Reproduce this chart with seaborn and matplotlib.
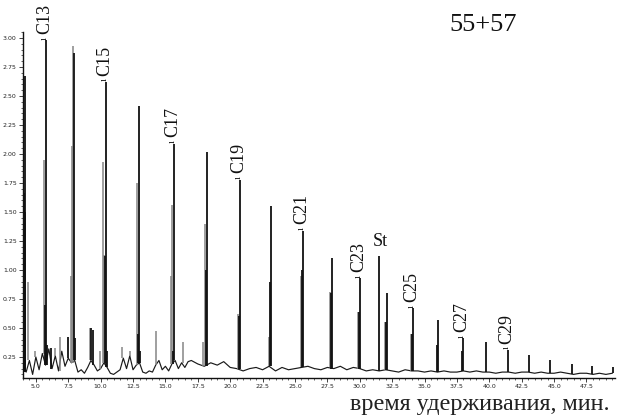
import numpy as np
import pandas as pd
import matplotlib
matplotlib.use("Agg")
import matplotlib.pyplot as plt
import seaborn as sns
from matplotlib.ticker import MultipleLocator, FormatStrFormatter

# ---------------- data ----------------
base_t_left = np.arange(4.0, 17.0, 0.25)
base_v_left = [0.20, 0.12, 0.22, 0.10, 0.25, 0.14, 0.28, 0.18,
               0.32, 0.15, 0.26, 0.13, 0.30, 0.17, 0.24, 0.20,
               0.22, 0.12, 0.14, 0.11, 0.16, 0.22, 0.18, 0.13,
               0.15, 0.20, 0.16, 0.11, 0.10, 0.12, 0.14, 0.24,
               0.15, 0.26, 0.14, 0.18, 0.20, 0.12, 0.11, 0.13,
               0.12, 0.18, 0.22, 0.14, 0.17, 0.13, 0.19, 0.22,
               0.15, 0.20, 0.16, 0.21]
base_t_right = np.arange(17.0, 49.75, 0.5)
base_v_right = [0.22, 0.19, 0.17, 0.20, 0.18, 0.21, 0.16, 0.15,
                0.13, 0.15, 0.16, 0.14, 0.17, 0.13, 0.16, 0.14,
                0.15, 0.16, 0.17, 0.15, 0.14, 0.16, 0.15, 0.17,
                0.14, 0.16, 0.15, 0.13, 0.14, 0.13, 0.14, 0.13,
                0.12, 0.14, 0.13, 0.13, 0.12, 0.13, 0.12, 0.13,
                0.12, 0.12, 0.13, 0.12, 0.13, 0.12, 0.12, 0.11,
                0.12, 0.12, 0.11, 0.12, 0.12, 0.11, 0.12, 0.11,
                0.11, 0.12, 0.11, 0.10, 0.11, 0.11, 0.10, 0.11,
                0.10, 0.11]

black_t = [4.08, 4.12, 4.16, 4.20, 5.69, 5.77, 5.85, 6.20, 7.47, 7.93, 8.01,
           9.25, 9.40, 10.33, 10.41, 10.50, 12.88, 12.95, 13.05, 15.58, 15.66,
           18.12, 18.20, 20.68, 20.75, 23.07, 23.15, 25.55, 25.62, 27.80, 27.86,
           29.95, 30.02, 31.49, 32.03, 32.10, 34.05, 34.11, 35.97, 36.04,
           37.90, 37.97, 39.75, 41.45, 43.07, 44.69, 46.39, 47.93, 49.56]
black_h = [1.66, 1.62, 2.67, 1.50, 0.70, 2.98, 0.35, 0.33, 0.42, 2.87, 0.41,
           0.50, 0.48, 1.12, 2.62, 0.30, 0.45, 2.41, 0.30, 0.30, 2.09,
           1.00, 2.02, 0.60, 1.78, 0.90, 1.55, 1.00, 1.34, 0.80, 1.10,
           0.64, 0.93, 1.12, 0.55, 0.80, 0.45, 0.67, 0.35, 0.57,
           0.30, 0.41, 0.38, 0.31, 0.27, 0.22, 0.19, 0.17, 0.16]

grey_t = [4.38, 4.90, 5.62, 6.45, 6.85, 7.70, 7.78, 7.86, 9.17, 9.94, 10.17,
          10.25, 11.64, 12.30, 12.80, 14.27, 15.42, 15.50, 16.35, 17.90, 18.05,
          20.60, 22.98, 25.48, 27.70, 29.86, 31.95, 33.96]
grey_h = [0.90, 0.30, 1.95, 0.33, 0.42, 0.95, 2.07, 2.93, 0.50, 0.30, 1.93,
          1.13, 0.34, 0.30, 1.75, 0.47, 0.95, 1.56, 0.38, 0.38, 1.40,
          0.62, 0.42, 0.95, 0.81, 0.64, 0.55, 0.45]

label_text = ["C13", "C15", "C17", "C19", "C21", "C23", "C25", "C27", "C29"]
label_t = [5.77, 10.41, 15.66, 20.75, 25.62, 30.02, 34.11, 37.97, 41.45]
st_text = "St"
st_t = 31.49

title_text = "55+57"
xlabel_text = "время удерживания, мин."

# ---------------- figure ----------------
sns.set_theme(style="white")
plt.rcParams["font.family"] = ["Liberation Serif", "DejaVu Serif"]

fig = plt.figure(figsize=(6.19, 4.18), dpi=100)
ax = fig.add_axes([0.037, 0.0957, 0.9565, 0.8273])

base_t = np.concatenate([base_t_left, base_t_right])
base_v = np.array(base_v_left + base_v_right)
base_df = pd.DataFrame({"t": base_t, "y": base_v})
sns.lineplot(data=base_df, x="t", y="y", color="#1a1a1a", lw=0.85,
             estimator=None, ax=ax)


def foot(ts):
    ts = np.asarray(ts)
    idx = np.abs(base_t[:, None] - ts[None, :]).argmin(axis=0)
    return base_v[idx]


ax.vlines(grey_t, foot(grey_t), grey_h, colors="#858585", lw=1.1)
ax.vlines(black_t, foot(black_t), black_h, colors="#111111", lw=1.3)

bt = np.array(black_t)
bh = np.array(black_h)
for txt, t in zip(label_text, label_t):
    h = bh[np.abs(bt - t).argmin()]
    ax.text(t - 0.12, h + 0.005, "ı", rotation=90, ha="center", va="bottom",
            fontsize=8, color="#111111", clip_on=False)
    ax.text(t - 0.12, h + 0.055, txt, rotation=90, ha="center", va="bottom",
            fontsize=13, color="#111111", clip_on=False)
h_st = bh[np.abs(bt - st_t).argmin()]
ax.text(st_t + 0.1, h_st + 0.05, st_text, ha="center", va="bottom",
        fontsize=13, color="#111111")

fig.text(0.781, 0.94, title_text, ha="center", va="center", fontsize=19,
         color="#111111")
fig.text(0.7745, 0.033, xlabel_text, ha="center", va="center", fontsize=17.4,
         color="#222222")

ax.set_xlim(4.0, 49.7)
ax.set_ylim(0.069, 3.05)
ax.set_xlabel("")
ax.set_ylabel("")
ax.xaxis.set_major_locator(MultipleLocator(2.5))
ax.xaxis.set_minor_locator(MultipleLocator(0.5))
ax.xaxis.set_major_formatter(FormatStrFormatter("%.1f"))
ax.yaxis.set_major_locator(MultipleLocator(0.25))
ax.yaxis.set_minor_locator(MultipleLocator(0.05))
ax.yaxis.set_major_formatter(FormatStrFormatter("%.2f"))
ax.tick_params(which="major", direction="out", length=3, width=0.6,
               labelsize=4.5, colors="#222222", pad=1.5,
               bottom=True, left=True, labelfontfamily="DejaVu Sans")
ax.tick_params(which="minor", direction="out", length=1.5, width=0.5,
               colors="#222222", bottom=True, left=True)
for s in ["top", "right"]:
    ax.spines[s].set_visible(False)
for s in ["left", "bottom"]:
    ax.spines[s].set_color("#111111")
    ax.spines[s].set_linewidth(1.0)

fig.savefig("out.png", dpi=100)
